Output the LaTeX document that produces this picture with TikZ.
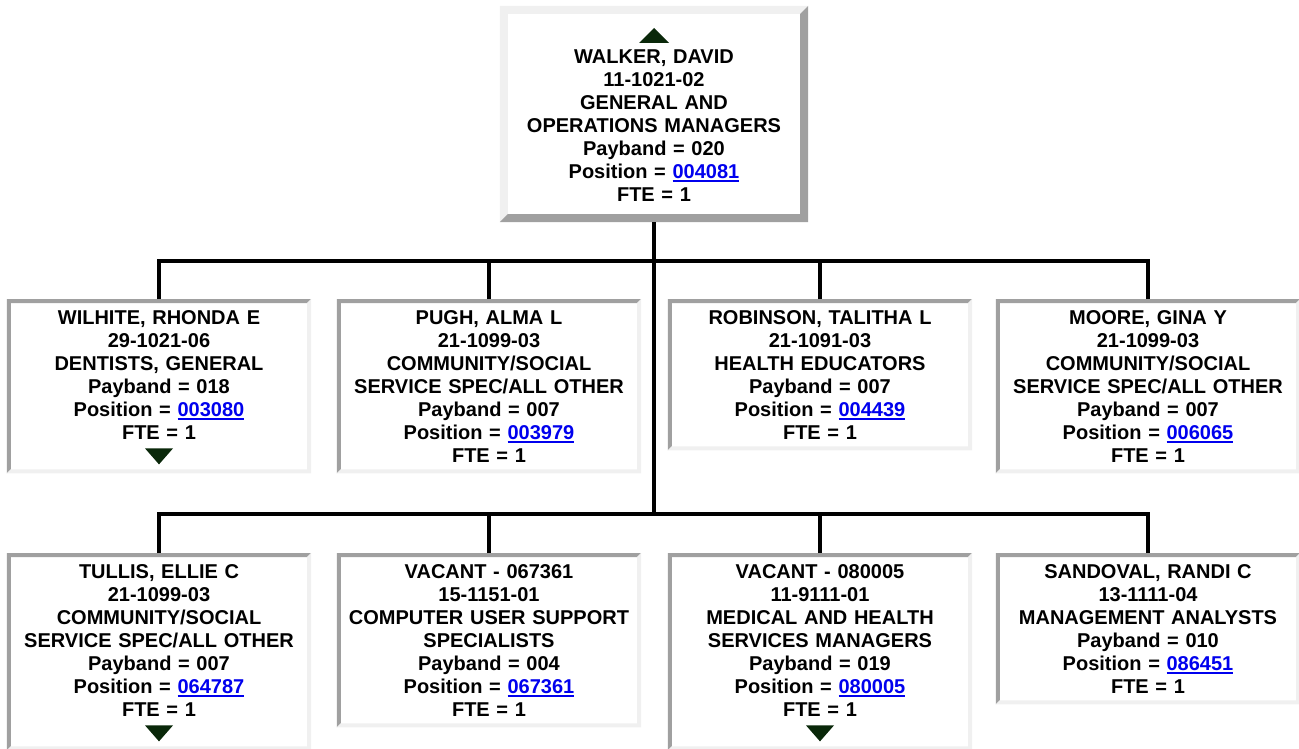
\documentclass[tikz,border=0pt]{standalone}
\usepackage{fontspec}
\setmainfont{Liberation Sans}
\usepackage{xcolor}
\usepackage{tikz}
\usetikzlibrary{calc, positioning}
\definecolor{bevelDark}{RGB}{160,160,160}
\definecolor{bevelLight}{RGB}{240,240,240}
\definecolor{linkBlue}{RGB}{0,0,238}
\definecolor{arrowGreen}{RGB}{10,40,10}

% underlined position number
\newcommand{\poslink}[1]{{\color{linkBlue}\setbox0=\hbox{#1}\rlap{\rule[-4pt]{\wd0}{2pt}}\box0}}
% 3d border: node, width, top/left colour, bottom/right colour
\newcommand{\bevel}[4]{%
  \fill[#3] (#1.south west) -- (#1.north west) -- (#1.north east)
    -- ([xshift=-#2,yshift=-#2]#1.north east) -- ([xshift=#2,yshift=-#2]#1.north west)
    -- ([xshift=#2,yshift=#2]#1.south west) -- cycle;
  \fill[#4] (#1.south west) -- (#1.south east) -- (#1.north east)
    -- ([xshift=-#2,yshift=-#2]#1.north east) -- ([xshift=-#2,yshift=#2]#1.south east)
    -- ([xshift=#2,yshift=#2]#1.south west) -- cycle;
}

\begin{document}
\begin{tikzpicture}[x=1pt,y=-1pt,
  font=\fontsize{20}{23}\selectfont\bfseries,
  post/.style={rectangle,fill=white,anchor=north,align=center,
               text width=294pt,inner xsep=5pt,inner ysep=11pt},
  boss/.style={post,text width=296pt,inner xsep=6pt,inner ysep=20.5pt},
  link/.style={line width=4pt}]
  \useasboundingbox (0,0) rectangle (1299,749);
  \clip (0,0) rectangle (1299,749);

  % top
  \node[boss] (walker) at (654,6)
    {\phantom{X}\\WALKER, DAVID\\11-1021-02\\GENERAL AND\\OPERATIONS MANAGERS\\
     Payband = 020\\Position = \poslink{004081}\\FTE = 1};
  \bevel{walker}{8}{bevelLight}{bevelDark}

  % first row
  \node[post] (wilhite) at (159,299)
    {WILHITE, RHONDA E\\29-1021-06\\DENTISTS, GENERAL\\Payband = 018\\
     Position = \poslink{003080}\\FTE = 1\\\phantom{X}};
  \node[post] (pugh) at (489,299)
    {PUGH, ALMA L\\21-1099-03\\COMMUNITY/SOCIAL\\SERVICE SPEC/ALL OTHER\\
     Payband = 007\\Position = \poslink{003979}\\FTE = 1};
  \node[post] (robinson) at (820,299)
    {ROBINSON, TALITHA L\\21-1091-03\\HEALTH EDUCATORS\\Payband = 007\\
     Position = \poslink{004439}\\FTE = 1};
  \node[post] (moore) at (1148,299)
    {MOORE, GINA Y\\21-1099-03\\COMMUNITY/SOCIAL\\SERVICE SPEC/ALL OTHER\\
     Payband = 007\\Position = \poslink{006065}\\FTE = 1};

  % second row
  \node[post] (tullis) at (159,553)
    {TULLIS, ELLIE C\\21-1099-03\\COMMUNITY/SOCIAL\\SERVICE SPEC/ALL OTHER\\
     Payband = 007\\Position = \poslink{064787}\\FTE = 1\\\phantom{X}};
  \node[post] (vacantA) at (489,553)
    {VACANT - 067361\\15-1151-01\\COMPUTER USER SUPPORT\\SPECIALISTS\\
     Payband = 004\\Position = \poslink{067361}\\FTE = 1};
  \node[post] (vacantB) at (820,553)
    {VACANT - 080005\\11-9111-01\\MEDICAL AND HEALTH\\SERVICES MANAGERS\\
     Payband = 019\\Position = \poslink{080005}\\FTE = 1\\\phantom{X}};
  \node[post] (sandoval) at (1148,553)
    {SANDOVAL, RANDI C\\13-1111-04\\MANAGEMENT ANALYSTS\\Payband = 010\\
     Position = \poslink{086451}\\FTE = 1};

  \foreach \n in {wilhite,pugh,robinson,moore,tullis,vacantA,vacantB,sandoval}
    \bevel{\n}{4}{bevelDark}{bevelLight};

  % expand / collapse marks
  \fill[arrowGreen] ($(walker.north)+(-15,37)$) -- ($(walker.north)+(15,37)$)
    -- ($(walker.north)+(0,22)$) -- cycle;
  \foreach \n in {wilhite,tullis,vacantB}
    \fill[arrowGreen] ($(\n.south)+(-14,-25)$) -- ($(\n.south)+(14,-25)$)
      -- ($(\n.south)+(0,-9)$) -- cycle;

  % connectors
  \coordinate (hubA) at (654,261);
  \coordinate (hubB) at (654,514);
  \draw[link] (walker.south) -- (hubB);
  \foreach \n in {wilhite,pugh,robinson,moore}
    \draw[link] (\n.north) |- (hubA);
  \foreach \n in {tullis,vacantA,vacantB,sandoval}
    \draw[link] (\n.north) |- (hubB);
\end{tikzpicture}
\end{document}
